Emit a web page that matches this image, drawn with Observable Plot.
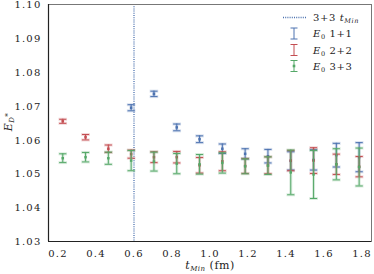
<!DOCTYPE html>
<html>
<head>
<meta charset="utf-8">
<script src="https://cdn.jsdelivr.net/npm/d3@7"></script>
<script src="https://cdn.jsdelivr.net/npm/@observablehq/plot@0.6"></script>
<style>
  html, body { margin: 0; padding: 0; background: #fff; }
  svg { display: block; }
</style>
</head>
<body>
<div id="chart"></div>
<script>
const tMin = [0.225, 0.345, 0.465, 0.585, 0.705, 0.825, 0.945, 1.065, 1.185, 1.305, 1.425, 1.545, 1.665, 1.785];
const e11 = [null, null, null, 1.0695, 1.0736, 1.0637, 1.0602, 1.0574, 1.0559, 1.0552, 1.0538, 1.0541, 1.0555, 1.0549];
const e11Err = [null, null, null, 0.0009, 0.0008, 0.0010, 0.0010, 0.0014, 0.0015, 0.0020, 0.0027, 0.0030, 0.0035, 0.0043];
const e22 = [1.0655, 1.0608, 1.0574, 1.0558, 1.0549, 1.0549, 1.0525, 1.0537, 1.0523, 1.0525, 1.0539, 1.0539, 1.0528, 1.0521];
const e22Err = [0.0006, 0.0008, 0.0011, 0.0012, 0.0016, 0.0017, 0.0023, 0.0028, 0.0022, 0.0025, 0.0030, 0.0038, 0.0030, 0.0030];
const e33 = [1.0546, 1.0549, 1.0546, 1.0539, 1.0536, 1.0530, 1.0528, 1.0532, 1.0522, 1.0524, 1.0504, 1.0498, 1.0528, 1.0520];
const e33Err = [0.0013, 0.0014, 0.0018, 0.0030, 0.0028, 0.0030, 0.0029, 0.0030, 0.0022, 0.0026, 0.0066, 0.0071, 0.0046, 0.0056];
const vLine = [0.6];
const xTicks = [0.2, 0.4, 0.6, 0.8, 1.0, 1.2, 1.4, 1.6, 1.8];
const yTicks = [1.03, 1.04, 1.05, 1.06, 1.07, 1.08, 1.09, 1.10];

const series = [
  {name: "1+1", color: "#4c72b0", v: e11, e: e11Err},
  {name: "2+2", color: "#c44e52", v: e22, e: e22Err},
  {name: "3+3", color: "#55a868", v: e33, e: e33Err}
];

const rows = s => tMin.map((x, i) => ({x, y: s.v[i], e: s.e[i]})).filter(d => d.y != null);

const capSymbol = {
  draw(ctx, size) {
    const r = Math.sqrt(size / Math.PI);
    ctx.moveTo(-r, 0); ctx.lineTo(r, 0);
  }
};

const font = "DejaVu Serif, Liberation Serif, serif";

const marks = [
  Plot.ruleX(vLine, {x: d => d, stroke: "#4c72b0", strokeWidth: 1.3, strokeDasharray: "1,1.2"})
];
for (const s of series) {
  const data = rows(s);
  marks.push(
    Plot.ruleX(data, {x: "x", y1: d => d.y - d.e, y2: d => d.y + d.e, stroke: s.color, strokeWidth: 3, strokeOpacity: 0.22}),
    Plot.ruleX(data, {x: "x", y1: d => d.y - d.e, y2: d => d.y + d.e, stroke: s.color, strokeWidth: 1}),
    Plot.dot(data, {x: "x", y: d => d.y - d.e, symbol: capSymbol, r: 4.3, stroke: s.color, strokeWidth: 3, strokeOpacity: 0.22, fill: "none"}),
    Plot.dot(data, {x: "x", y: d => d.y + d.e, symbol: capSymbol, r: 4.3, stroke: s.color, strokeWidth: 3, strokeOpacity: 0.22, fill: "none"}),
    Plot.dot(data, {x: "x", y: d => d.y - d.e, symbol: capSymbol, r: 3.6, stroke: s.color, strokeWidth: 1, fill: "none"}),
    Plot.dot(data, {x: "x", y: d => d.y + d.e, symbol: capSymbol, r: 3.6, stroke: s.color, strokeWidth: 1, fill: "none"}),
    Plot.dot(data, {x: "x", y: "y", symbol: "square", r: 1.4, fill: s.color, stroke: "none"})
  );
}
marks.push(
  Plot.axisX({ticks: xTicks, tickFormat: d3.format(".1f"), tickSize: 0, tickPadding: 8, fontSize: 10, fill: "#222", label: null}),
  Plot.axisY({ticks: yTicks, tickFormat: d3.format(".2f"), tickSize: 0, tickPadding: 7, fontSize: 10, fill: "#222", label: null, dy: 0.5}),
  Plot.frame({stroke: "#777", strokeWidth: 1}),
  Plot.ruleX([0.15], {stroke: "#222", strokeWidth: 1.2}),
  Plot.ruleY([1.03], {stroke: "#222", strokeWidth: 1.2})
);

const plot = Plot.plot({
  width: 374,
  height: 274,
  marginLeft: 48,
  marginRight: 3,
  marginTop: 4,
  marginBottom: 33,
  style: {fontFamily: font, fontSize: "10px", background: "#fff", letterSpacing: "1.2px"},
  x: {domain: [0.15, 1.85]},
  y: {domain: [1.03, 1.10]},
  marks
});

const svg = d3.select(plot);

// x label
const xl = svg.append("text").attr("x", 210).attr("y", 269).attr("text-anchor", "middle")
  .attr("font-family", font).attr("font-size", 11).attr("fill", "#222").style("letter-spacing", "0.5px");
xl.append("tspan").attr("font-style", "italic").text("t");
xl.append("tspan").attr("font-style", "italic").attr("font-size", 7).attr("dy", 2).text("Min");
xl.append("tspan").attr("dy", -2).text(" (fm)");

// y label
const yl = svg.append("text").attr("transform", "translate(12,122) rotate(-90)").attr("text-anchor", "middle")
  .attr("font-family", font).attr("font-size", 11).attr("fill", "#222").style("letter-spacing", "0.5px");
yl.append("tspan").attr("font-style", "italic").text("E");
yl.append("tspan").attr("font-style", "italic").attr("font-size", 7).attr("dy", 2).text("D");
yl.append("tspan").attr("font-size", 7).attr("dy", -4).text("*");

// legend
const lg = svg.append("g").attr("font-family", font).attr("font-size", 10).attr("fill", "#222")
  .attr("text-anchor", "start").style("letter-spacing", "0.6px");
const rowY = [17.5, 33.5, 50, 66];
lg.append("line").attr("x1", 283).attr("x2", 306).attr("y1", rowY[0]).attr("y2", rowY[0])
  .attr("stroke", "#4c72b0").attr("stroke-width", 1.3).attr("stroke-dasharray", "1,1.2");
const t0 = lg.append("text").attr("x", 313).attr("y", rowY[0] + 3.5);
t0.append("tspan").text("3+3 ");
t0.append("tspan").attr("font-style", "italic").text("t");
t0.append("tspan").attr("font-style", "italic").attr("font-size", 6.5).attr("dy", 2).text("Min");
series.forEach((s, i) => {
  const cy = rowY[i + 1];
  const g = lg.append("g").attr("stroke", s.color).attr("stroke-width", 1);
  g.append("line").attr("x1", 294).attr("x2", 294).attr("y1", cy - 5.5).attr("y2", cy + 5.5);
  g.append("line").attr("x1", 290.5).attr("x2", 297.5).attr("y1", cy - 5.5).attr("y2", cy - 5.5);
  g.append("line").attr("x1", 290.5).attr("x2", 297.5).attr("y1", cy + 5.5).attr("y2", cy + 5.5);
  if (i === 2) g.append("rect").attr("x", 292.7).attr("y", cy - 1.3).attr("width", 2.6).attr("height", 2.6).attr("fill", s.color).attr("stroke", "none");
  const t = lg.append("text").attr("x", 313).attr("y", cy + 3.5);
  t.append("tspan").attr("font-style", "italic").text("E");
  t.append("tspan").attr("font-size", 6.5).attr("dy", 2).text("0");
  t.append("tspan").attr("dy", -2).text(" " + s.name);
});

document.getElementById("chart").appendChild(plot);
</script>
</body>
</html>
